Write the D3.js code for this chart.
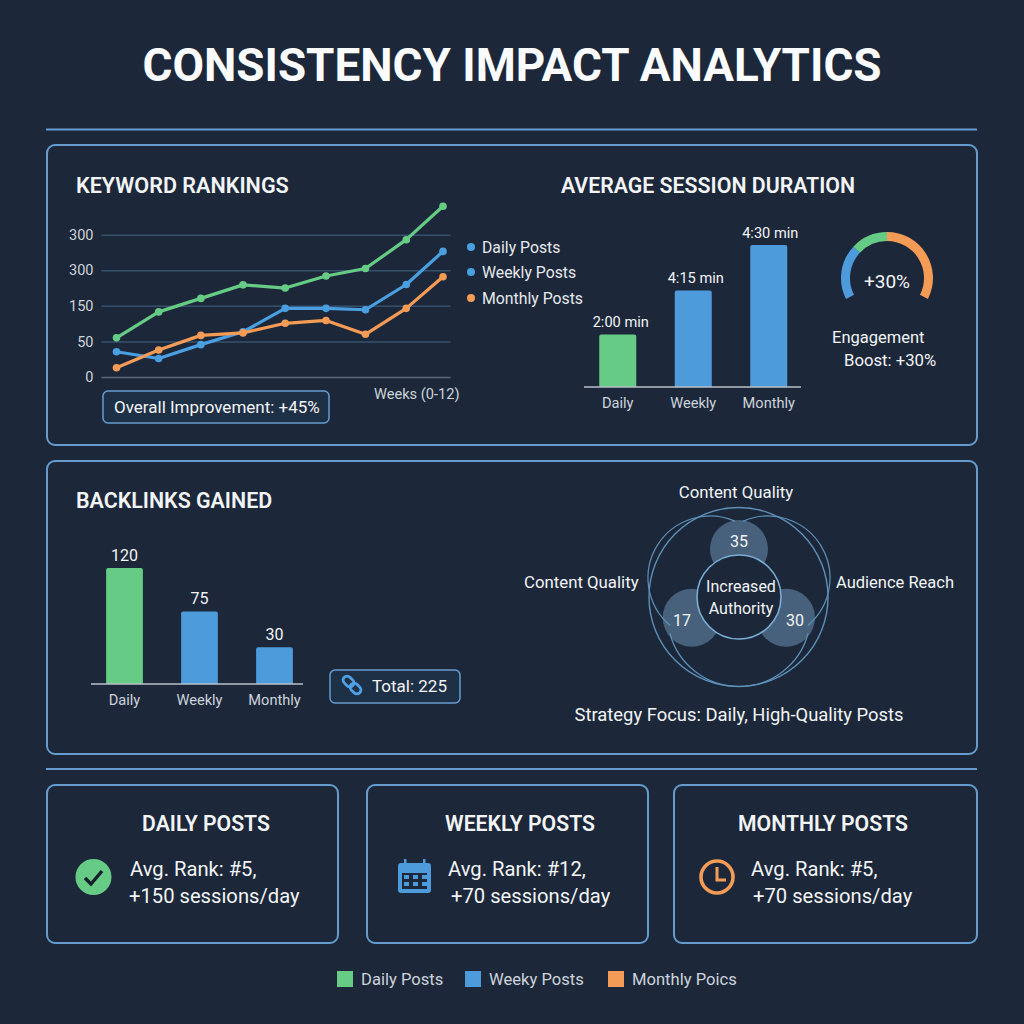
<!DOCTYPE html>
<html><head><meta charset="utf-8">
<script src="https://cdn.jsdelivr.net/npm/d3@7"></script>
<style>html,body{margin:0;padding:0;background:#1c283a}svg{display:block}text{font-family:Roboto,sans-serif}</style>
</head><body><svg id="c" width="1024" height="1024"></svg>
<script>
const weeks=[0,1.55,3.1,4.65,6.2,7.7,9.15,10.65,12];
const dailyRank=[110,183,221,259,250,284,305,386,480];
const weeklyRank=[71,52,91,127,193,193,189,260,353];
const monthlyRank=[26,76,117,124,151,159,120,193,282];
const rankTickPositions=[0,100,200,300,400];
const rankTickLabels=["0","50","150","300","300"];
const seriesNames=["Daily Posts","Weekly Posts","Monthly Posts"];
const sessionCats=["Daily","Weekly","Monthly"];
const sessionLabels=["2:00 min","4:15 min","4:30 min"];
const sessionLevels=[37,68,100];
const gaugeSegments=[70,47,117];
const backlinkCats=["Daily","Weekly","Monthly"];
const backlinkLabels=["120","75","30"];
const backlinkLevels=[120,75,38];
const vennValues=["35","17","30"];
const footerNames=["Daily Posts","Weeky Posts","Monthly Poics"];

const GREEN="#66cc85",BLUE="#4e9bdc",ORANGE="#f49b56",BORDER="#659ccd",BG="#1c283a",TXT="#f2f4f6",SOFT="#cdd3da";
const svg=d3.select("#c");
svg.append("rect").attr("width",1024).attr("height",1024).attr("fill",BG);
function T(s,x,y,size,o={}){return svg.append("text").attr("x",x).attr("y",y).attr("font-size",size)
 .attr("fill",o.fill||TXT).attr("font-weight",o.w||400).attr("text-anchor",o.a||"start")
 .attr("dominant-baseline","central").text(s);}
function box(x0,y0,x1,y1,r,w){svg.append("rect").attr("x",x0).attr("y",y0).attr("width",x1-x0).attr("height",y1-y0)
 .attr("rx",r).attr("fill","none").attr("stroke",BORDER).attr("stroke-width",w||2);}
function hline(x0,x1,y,c,w){svg.append("line").attr("x1",x0).attr("x2",x1).attr("y1",y).attr("y2",y).attr("stroke",c).attr("stroke-width",w);}

T("CONSISTENCY IMPACT ANALYTICS",512,65,45.8,{w:700,a:"middle",fill:"#fafbfc"});
hline(46,977,129.5,BORDER,2);hline(46,977,769,BORDER,2);
box(47,145,977,445,8);box(47,461,977,754,8);
box(47,785,338,943,8);box(367,785,648,943,8);box(674,785,977,943,8);

T("KEYWORD RANKINGS",76,185,21.6,{w:600});
T("AVERAGE SESSION DURATION",561,185,21.3,{w:600});
T("BACKLINKS GAINED",76,500,21.4,{w:600});

// line chart
const x=d3.scaleLinear().domain([0,12]).range([116.5,443]);
const y=d3.scaleLinear().domain([0,400]).range([377,234.7]);
const yAxis=svg.append("g").attr("transform","translate(101.5,0)")
 .call(d3.axisLeft(y).tickValues(rankTickPositions).tickSize(-349).tickPadding(8).tickFormat((d,i)=>rankTickLabels[i]));
yAxis.select(".domain").remove();
yAxis.selectAll("line").attr("stroke",(d)=>d===0?"#5b6777":"#34506e").attr("stroke-width",1.5);
yAxis.selectAll("text").attr("fill",SOFT).attr("font-size",14.5).attr("font-family","Roboto,sans-serif");
const line=d3.line().x((d,i)=>x(weeks[i])).y(d=>y(d));
[[dailyRank,GREEN],[weeklyRank,"#4a9fe0"],[monthlyRank,ORANGE]].forEach(([s,c])=>{
 svg.append("path").attr("d",line(s)).attr("fill","none").attr("stroke",c).attr("stroke-width",3.2).attr("stroke-linejoin","round");
 svg.append("g").selectAll("circle").data(s).join("circle").attr("cx",(d,i)=>x(weeks[i])).attr("cy",d=>y(d)).attr("r",3.8).attr("fill",c);
});
const legY=[247,272,298],legC=["#4a9fe0","#4a9fe0",ORANGE];
seriesNames.forEach((n,i)=>{svg.append("circle").attr("cx",471).attr("cy",legY[i]).attr("r",4).attr("fill",legC[i]);
 T(n,482,legY[i],15.8,{fill:"#e6e9ed"});});
T("Weeks (0-12)",374,394,14.6,{fill:SOFT});
svg.append("rect").attr("x",103).attr("y",391).attr("width",226).attr("height",32).attr("rx",5).attr("fill","#1e3045").attr("stroke",BORDER).attr("stroke-width",1.5);
T("Overall Improvement: +45%",114,407,17);

// session bars
const bx=d3.scaleBand().domain(sessionCats).range([580,806.5]).paddingInner(.51).paddingOuter(.255);
const by=d3.scaleLinear().domain([0,100]).range([387,245]);
const barPath=(x0,w,yt,yb,r)=>{const p=d3.path();p.moveTo(x0,yb);p.lineTo(x0,yt+r);p.arcTo(x0,yt,x0+r,yt,r);p.lineTo(x0+w-r,yt);p.arcTo(x0+w,yt,x0+w,yt+r,r);p.lineTo(x0+w,yb);p.closePath();return p.toString();};
const sessColors=[GREEN,BLUE,BLUE];
svg.append("g").selectAll("path").data(sessionLevels).join("path")
 .attr("d",(d,i)=>barPath(bx(sessionCats[i]),bx.bandwidth(),by(d),by(0),2)).attr("fill",(d,i)=>sessColors[i]);
const sAxis=svg.append("g").attr("transform","translate(0,387)").call(d3.axisBottom(bx).tickSize(0).tickPadding(11));
sAxis.select(".domain").remove();
sAxis.selectAll("text").attr("fill",SOFT).attr("font-size",14.6).attr("font-family","Roboto,sans-serif");
hline(584,801,387,"#b9c0c9",1.5);
const sessShift=[3,2.5,1.5];
sessionLabels.forEach((l,i)=>T(l,bx(sessionCats[i])+bx.bandwidth()/2+sessShift[i],by(sessionLevels[i])-12.5,14.6,{a:"middle"}));

// gauge
const A=117*Math.PI/180;
const pie=d3.pie().sort(null).startAngle(-A).endAngle(A);
const gArc=d3.arc().innerRadius(37).outerRadius(46);
const gaugeColors=[BLUE,GREEN,ORANGE];
svg.append("g").attr("transform","translate(887,278)").selectAll("path").data(pie(gaugeSegments)).join("path").attr("d",gArc).attr("fill",(d,i)=>gaugeColors[i]);
T("+30%",887,281,19,{a:"middle"});
T("Engagement",832,337,16.5);
T("Boost: +30%",844,360,16.7);

// backlink bars
const kx=d3.scaleBand().domain(backlinkCats).range([87,312]).paddingInner(.51).paddingOuter(.255);
const ky=d3.scaleLinear().domain([0,120]).range([684,568]);
const backColors=[GREEN,BLUE,BLUE];
svg.append("g").selectAll("path").data(backlinkLevels).join("path")
 .attr("d",(d,i)=>barPath(kx(backlinkCats[i]),kx.bandwidth(),ky(d),ky(0),2)).attr("fill",(d,i)=>backColors[i]);
const kAxis=svg.append("g").attr("transform","translate(0,684)").call(d3.axisBottom(kx).tickSize(0).tickPadding(11));
kAxis.select(".domain").remove();
kAxis.selectAll("text").attr("fill",SOFT).attr("font-size",14.6).attr("font-family","Roboto,sans-serif");
hline(91,303,684,"#b9c0c9",1.5);
backlinkLabels.forEach((l,i)=>T(l,kx(backlinkCats[i])+kx.bandwidth()/2,ky(backlinkLevels[i])-13,16,{a:"middle"}));
svg.append("rect").attr("x",330).attr("y",670).attr("width",130).attr("height",33).attr("rx",5).attr("fill","#1e3045").attr("stroke",BORDER).attr("stroke-width",1.5);
T("Total: 225",372,686,17);
const link=svg.append("g").attr("transform","translate(352,685) rotate(45)").attr("fill","none").attr("stroke","#4e9fe4").attr("stroke-width",2.8);
link.append("rect").attr("x",-11).attr("y",-4).attr("width",12).attr("height",8).attr("rx",4);
link.append("rect").attr("x",-1).attr("y",-4).attr("width",12).attr("height",8).attr("rx",4);

// venn
const blobs=[[739,549],[691.7,617.7],[786,617.7]];
const vennG=svg.append("g");
vennG.selectAll("circle").data(blobs).join("circle").attr("cx",d=>d[0]).attr("cy",d=>d[1]).attr("r",29).attr("fill","#47617d");
const thin="#5e90b8";
svg.append("circle").attr("cx",738.5).attr("cy",597).attr("r",89.5).attr("fill","none").attr("stroke",thin).attr("stroke-width",1.4);
const rad=Math.PI/180;
[[710,578,62,-140,24],[768,578,62,-24,140],[739,615,71.5,105,255]].forEach(([cx,cy,r,a,b])=>{
 svg.append("path").attr("transform",`translate(${cx},${cy})`)
  .attr("d",d3.arc().innerRadius(r).outerRadius(r).startAngle(a*rad).endAngle(b*rad)())
  .attr("fill","none").attr("stroke",thin).attr("stroke-width",1.2);});
svg.append("circle").attr("cx",739).attr("cy",597).attr("r",42).attr("fill",BG).attr("stroke","#79aed6").attr("stroke-width",1.6);
T("Increased",741,586,16,{a:"middle"});T("Authority",741,608,16,{a:"middle"});
T(vennValues[0],739,541,16,{a:"middle"});T(vennValues[1],682,620,16,{a:"middle"});T(vennValues[2],795,620,16,{a:"middle"});
T("Content Quality",736,492,16.8,{a:"middle"});
T("Content Quality",524,582,16.8);
T("Audience Reach",836,582,16.5);
T("Strategy Focus: Daily, High-Quality Posts",739,714,18.4,{a:"middle"});

// cards
T("DAILY POSTS",206,823,21.2,{w:600,a:"middle"});
T("WEEKLY POSTS",520,823,21.2,{w:600,a:"middle"});
T("MONTHLY POSTS",823,823,21.2,{w:600,a:"middle"});
T("Avg. Rank: #5,",130,869,20.2);T("+150 sessions/day",129,896,20.2);
T("Avg. Rank: #12,",448,869,20.2);T("+70 sessions/day",451,896,20.2);
T("Avg. Rank: #5,",751,869,20.2);T("+70 sessions/day",753,896,20.2);
svg.append("circle").attr("cx",93.5).attr("cy",877).attr("r",18).attr("fill",GREEN);
svg.append("path").attr("d",d3.line()([[85,878],[91,884],[102,871]])).attr("fill","none").attr("stroke","#16202c").attr("stroke-width",3.4);
const cal=svg.append("g");
cal.append("rect").attr("x",398).attr("y",863).attr("width",33).attr("height",30).attr("rx",3).attr("fill",BLUE);
cal.append("rect").attr("x",402).attr("y",873).attr("width",25).attr("height",16).attr("fill",BG);
[405,414,423].forEach(px=>[876,883].forEach(py=>cal.append("rect").attr("x",px-1).attr("y",py-1).attr("width",5).attr("height",4).attr("fill",BLUE)));
[405,424].forEach(px=>cal.append("rect").attr("x",px-1).attr("y",859).attr("width",2.5).attr("height",6).attr("fill",BLUE));
svg.append("circle").attr("cx",717).attr("cy",877).attr("r",16).attr("fill","none").attr("stroke",ORANGE).attr("stroke-width",3.6);
svg.append("path").attr("d",d3.line()([[717,867],[717,880],[726,880]])).attr("fill","none").attr("stroke",ORANGE).attr("stroke-width",3);

// footer legend
[[337,GREEN,361],[465,BLUE,489],[608,ORANGE,632]].forEach(([sx,c,tx],i)=>{
 svg.append("rect").attr("x",sx).attr("y",971).attr("width",16).attr("height",16).attr("fill",c);
 T(footerNames[i],tx,979,16.6,{fill:SOFT});});
</script></body></html>
